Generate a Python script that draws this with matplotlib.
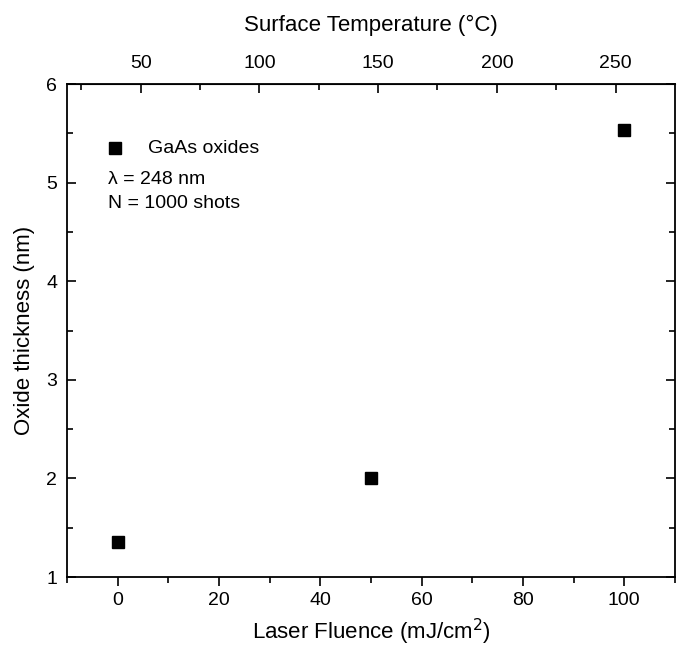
import matplotlib.pyplot as plt
from matplotlib.ticker import MultipleLocator, FixedLocator

plt.rcParams['font.family'] = ['Liberation Sans', 'DejaVu Sans']

fluence = [0, 50, 100]
thickness = [1.36, 2.0, 5.53]
series_label = "GaAs oxides"
notes = ["\u03bb = 248 nm", "N = 1000 shots"]
temp_ticks = [50, 100, 150, 200, 250]
temp_minor = [25, 75, 125, 175, 225]

# surface temperature vs fluence
t0, slope = 40.3, 2.134

fig = plt.figure(figsize=(6.77, 6.46), dpi=100)
ax = fig.add_axes([0.099, 0.1068, 0.898, 0.763])

ax.plot(fluence, thickness, 's', color='black', markersize=8)

ax.set_xlim(-10, 110)
ax.set_ylim(1, 6)
ax.xaxis.set_major_locator(MultipleLocator(20))
ax.xaxis.set_minor_locator(MultipleLocator(10))
ax.yaxis.set_major_locator(MultipleLocator(1))
ax.yaxis.set_minor_locator(MultipleLocator(0.5))
ax.tick_params(which='both', labelsize=14, width=1.2, top=False)
ax.tick_params(axis='x', which='both', direction='out', pad=4)
ax.tick_params(axis='y', which='both', direction='in', right=True, pad=7)
ax.tick_params(which='major', length=6.5)
ax.tick_params(which='minor', length=4)
for s in ax.spines.values():
    s.set_linewidth(1.3)

ax.set_xlabel("Laser Fluence (mJ/cm$^2$)", fontsize=16, labelpad=6)
ax.set_ylabel("Oxide thickness (nm)", fontsize=16, labelpad=8)

top = ax.secondary_xaxis('top', functions=(lambda f: t0 + slope * f,
                                           lambda t: (t - t0) / slope))
top.xaxis.set_major_locator(FixedLocator(temp_ticks))
top.xaxis.set_minor_locator(FixedLocator(temp_minor))
top.tick_params(which='both', direction='in', labelsize=14, width=1.2, pad=9)
top.tick_params(which='major', length=6.5)
top.tick_params(which='minor', length=4)
top.set_xlabel("Surface Temperature (\u00b0C)", fontsize=16, labelpad=17)

# legend-like annotations
ax.plot([0.079], [0.870], 's', color='black', markersize=8, transform=ax.transAxes)
ax.text(0.133, 0.870, series_label, transform=ax.transAxes, fontsize=14, va='center')
ax.text(0.0674, 0.807, notes[0], transform=ax.transAxes, fontsize=14, va='center')
ax.text(0.0674, 0.758, notes[1], transform=ax.transAxes, fontsize=14, va='center')

fig.savefig('out.png', dpi=100)
